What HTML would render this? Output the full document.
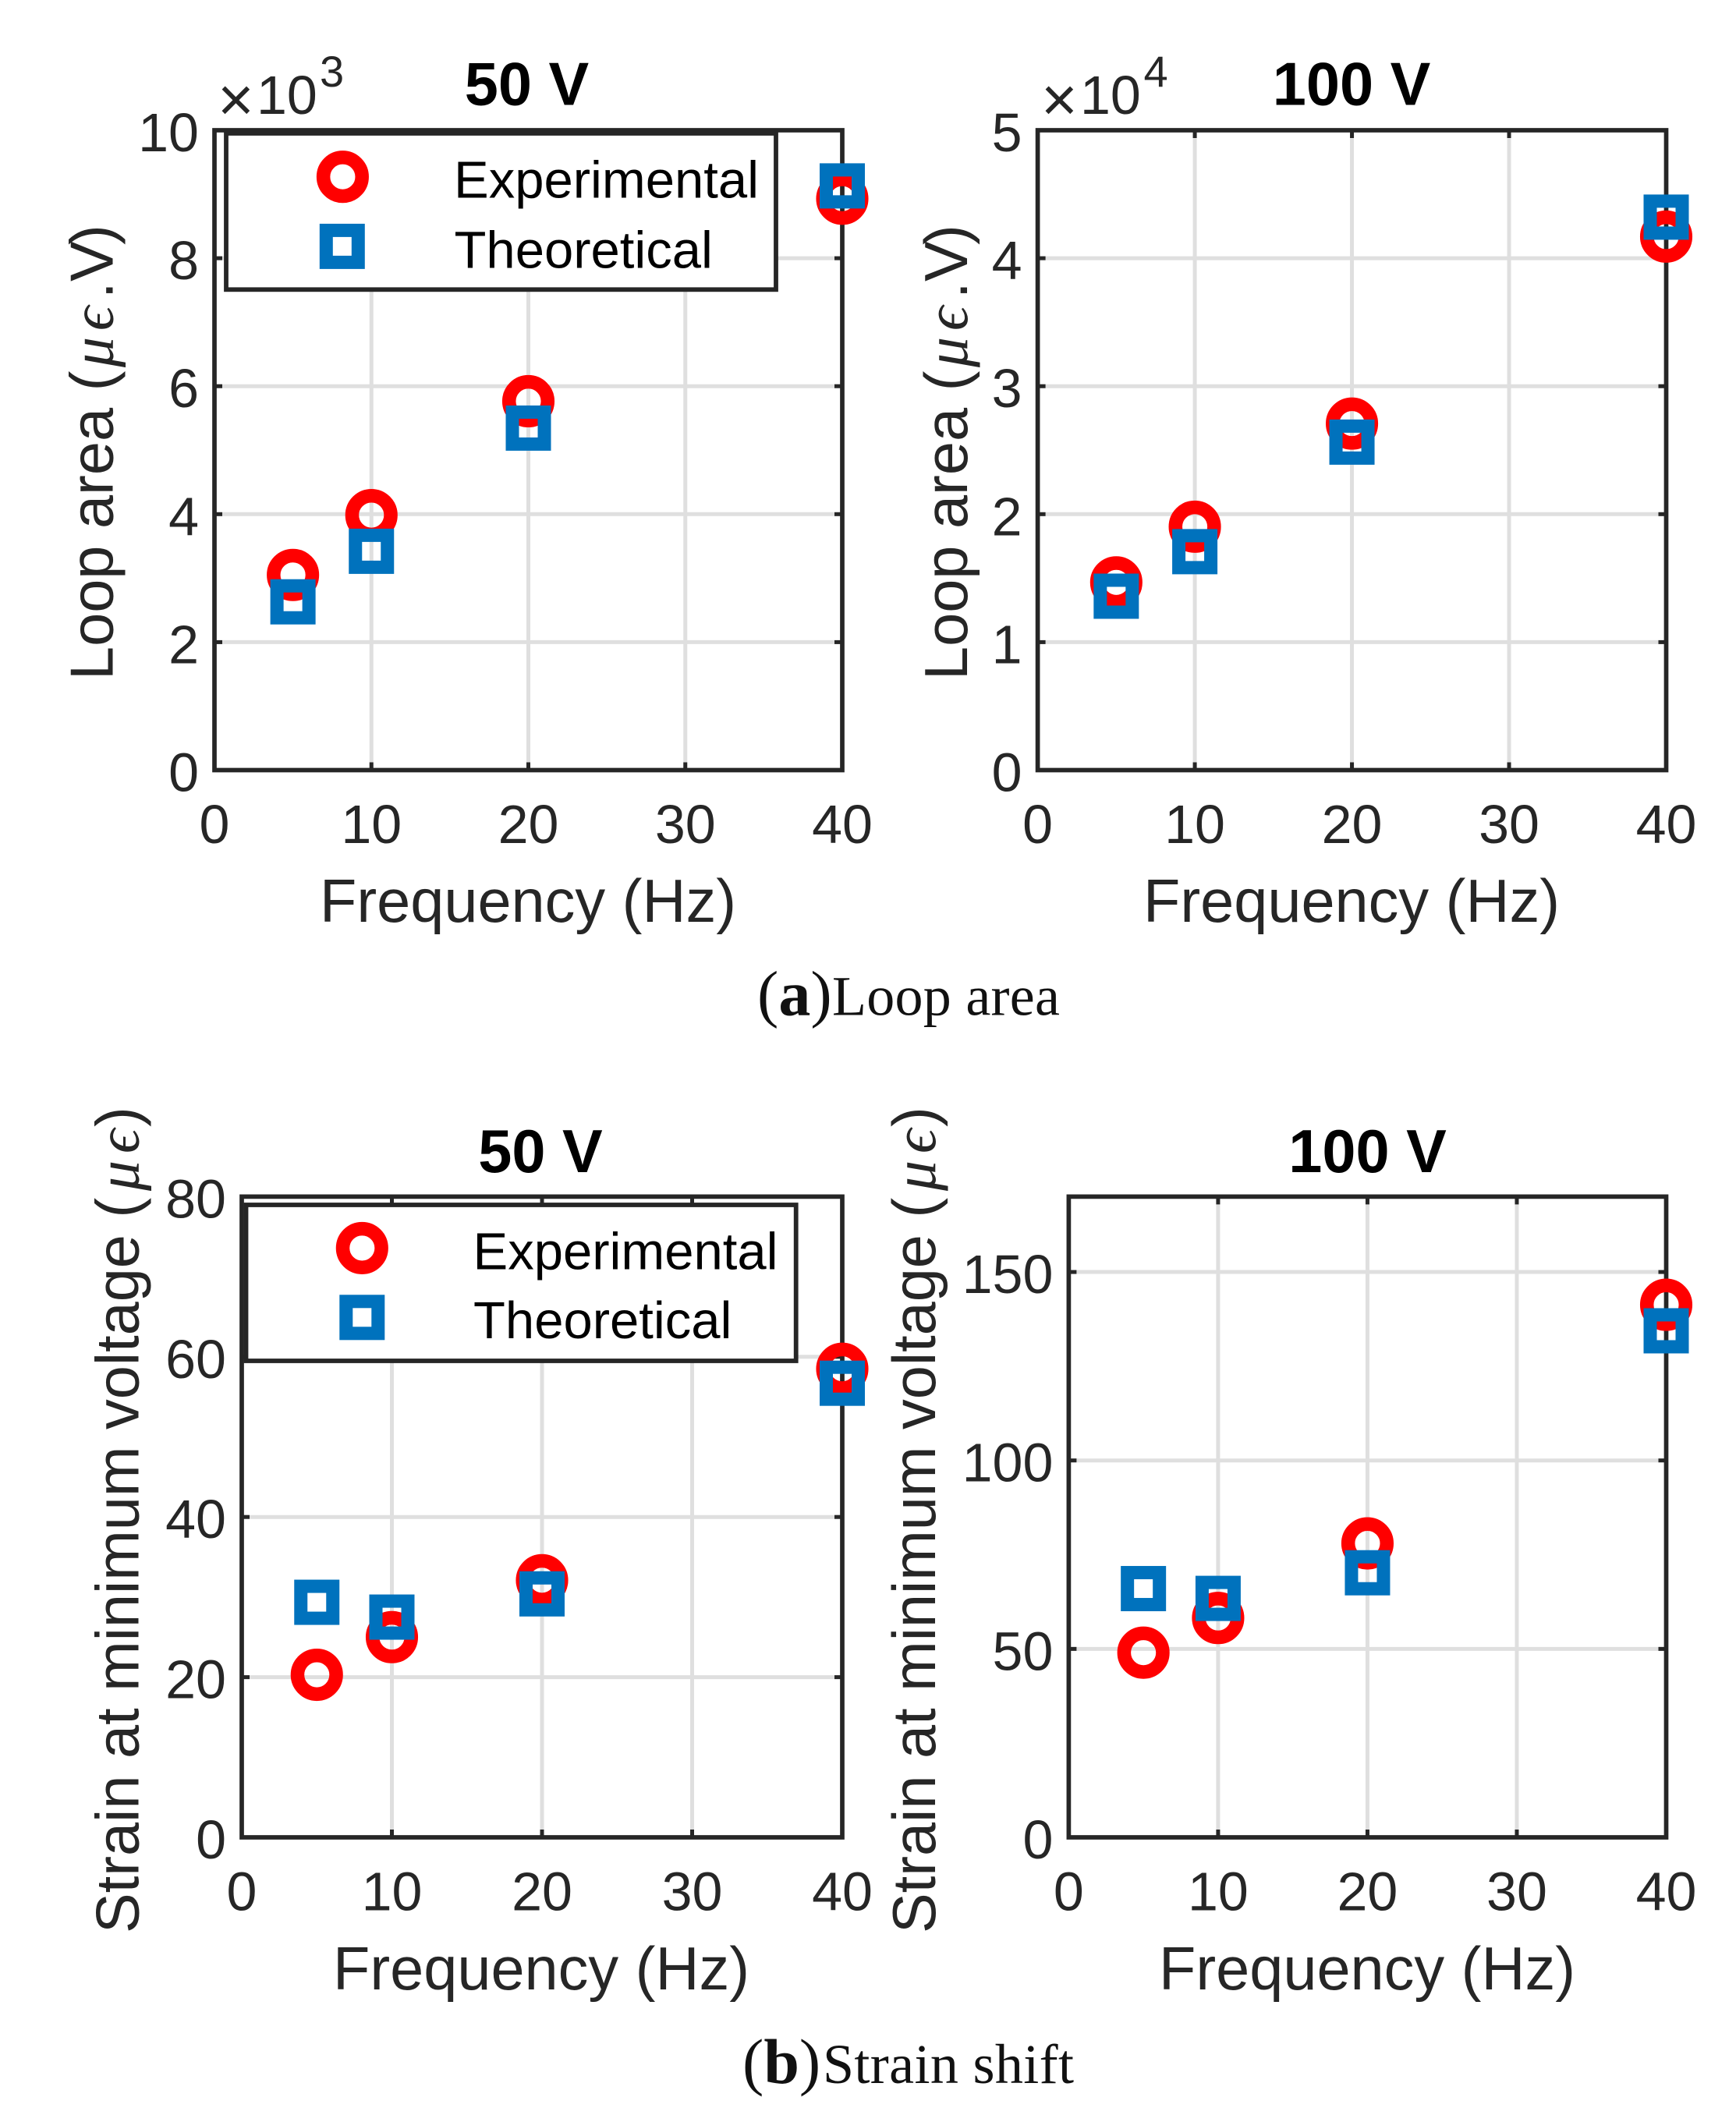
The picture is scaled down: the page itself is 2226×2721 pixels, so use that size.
<!DOCTYPE html>
<html lang="en">
<head>
<meta charset="utf-8">
<title>Loop area and strain shift versus frequency</title>
<style>
  html, body { margin: 0; padding: 0; background: #fff; }
  svg { display: block; }
  text { font-family: "Liberation Sans", sans-serif; }
  .tick { font-size: 70px; fill: #262626; }
  .axis-title { font-size: 77.5px; fill: #262626; }
  .title { font-size: 77.5px; font-weight: bold; fill: #000; text-anchor: middle; }
  .legend-text { font-size: 67px; fill: #000; }
  .math { font-family: "Liberation Serif", "DejaVu Serif", serif; font-style: italic; }
  .caption { font-family: "Liberation Serif", serif; font-size: 72px; fill: #111; }
  .caption-label { font-family: "Liberation Serif", serif; font-size: 82px; fill: #111; }
  .exp-times { font-size: 80px; fill: #262626; }
  .exp { font-size: 70px; fill: #262626; }
  .exp-sup { font-size: 56px; fill: #262626; }
</style>
</head>
<body>
<svg id="figure" xmlns="http://www.w3.org/2000/svg" width="2226" height="2721" viewBox="0 0 2226 2721">
  <rect width="2226" height="2721" fill="#fff"/>

  <g id="panel-a-50">
    <g class="plot"></g>
    <text class="title" x="675.5" y="134.5">50 V</text>
    <text class="exp-times" x="279" y="155">×</text>
    <text class="exp" x="329" y="146">10</text>
    <text class="exp-sup" x="410" y="111">3</text>
    <text class="axis-title" x="677" y="1182" text-anchor="middle">Frequency (Hz)</text>
    <text class="axis-title" transform="translate(144.5,872) rotate(-90)">Loop area (<tspan class="math" x="401">μ</tspan><tspan class="math" x="448">ϵ</tspan><tspan x="489">.</tspan><tspan x="511">V</tspan><tspan x="558">)</tspan></text>
    <g>
      <rect x="290" y="171" width="705" height="200.3" fill="#fff" stroke="#262626" stroke-width="5.8"/>
      <circle cx="439.4" cy="226.7" r="24.8" fill="none" stroke="#ff0000" stroke-width="17.5"/>
      <rect x="418.3" y="295.4" width="41" height="41" fill="none" stroke="#0072bd" stroke-width="17"/>
      <text class="legend-text" x="582" y="253.4">Experimental</text>
      <text class="legend-text" x="582.5" y="343.6">Theoretical</text>
    </g>
  </g>

  <g id="panel-a-100">
    <g class="plot"></g>
    <text class="title" x="1733" y="134.5">100 V</text>
    <text class="exp-times" x="1335" y="155">×</text>
    <text class="exp" x="1385" y="146">10</text>
    <text class="exp-sup" x="1466.5" y="111">4</text>
    <text class="axis-title" x="1733" y="1182" text-anchor="middle">Frequency (Hz)</text>
    <text class="axis-title" transform="translate(1240,872) rotate(-90)">Loop area (<tspan class="math" x="401">μ</tspan><tspan class="math" x="448">ϵ</tspan><tspan x="489">.</tspan><tspan x="511">V</tspan><tspan x="558">)</tspan></text>
  </g>

  <text y="1301.7"><tspan class="caption-label" x="971">(</tspan><tspan class="caption-label" font-weight="bold">a</tspan><tspan class="caption-label">)</tspan></text>
  <text class="caption" x="1067" y="1301.7" textLength="292" lengthAdjust="spacing">Loop area</text>

  <g id="panel-b-50">
    <g class="plot"></g>
    <text class="title" x="693" y="1503">50 V</text>
    <text class="axis-title" x="694" y="2551" text-anchor="middle">Frequency (Hz)</text>
    <text class="axis-title" transform="translate(177.5,2479) rotate(-90)">Strain at minimum voltage (<tspan class="math" x="952">μ</tspan><tspan class="math" x="1000">ϵ</tspan><tspan x="1034">)</tspan></text>
    <g>
      <rect x="315.5" y="1545" width="705.2" height="200" fill="#fff" stroke="#262626" stroke-width="5.8"/>
      <circle cx="464.3" cy="1600.4" r="24.8" fill="none" stroke="#ff0000" stroke-width="17.5"/>
      <rect x="443.8" y="1668.8" width="41" height="41" fill="none" stroke="#0072bd" stroke-width="17"/>
      <text class="legend-text" x="606.5" y="1627.7">Experimental</text>
      <text class="legend-text" x="607" y="1716">Theoretical</text>
    </g>
  </g>

  <g id="panel-b-100">
    <g class="plot"></g>
    <text class="title" x="1753.5" y="1503">100 V</text>
    <text class="axis-title" x="1753" y="2551" text-anchor="middle">Frequency (Hz)</text>
    <text class="axis-title" transform="translate(1199,2479) rotate(-90)">Strain at minimum voltage (<tspan class="math" x="952">μ</tspan><tspan class="math" x="1000">ϵ</tspan><tspan x="1034">)</tspan></text>
  </g>

  <text y="2671"><tspan class="caption-label" x="952">(</tspan><tspan class="caption-label" font-weight="bold">b</tspan><tspan class="caption-label">)</tspan></text>
  <text class="caption" x="1055" y="2671" textLength="322" lengthAdjust="spacing">Strain shift</text>
</svg>

<script>
const frequencies = [5, 10, 20, 40];
const xTickValues = [0, 10, 20, 30, 40];

const loopArea50Experimental = [3.05, 3.985, 5.765, 8.93];
const loopArea50Theoretical = [2.63, 3.42, 5.345, 9.13];
const loopArea50Ticks = [0, 2, 4, 6, 8, 10];

const loopArea100Experimental = [1.467, 1.902, 2.708, 4.169];
const loopArea100Theoretical = [1.359, 1.707, 2.563, 4.321];
const loopArea100Ticks = [0, 1, 2, 3, 4, 5];

const strain50Experimental = [20.3, 25.0, 32.1, 58.5];
const strain50Theoretical = [29.35, 27.5, 30.4, 56.7];
const strain50Ticks = [0, 20, 40, 60, 80];

const strain100Experimental = [49, 58.2, 78, 141.3];
const strain100Theoretical = [66, 63.4, 70.2, 134.4];
const strain100Ticks = [0, 50, 100, 150];

const SVG_NS = 'http://www.w3.org/2000/svg';
const AXIS_COLOR = '#262626';
const GRID_COLOR = '#dfdfdf';

function make(parent, tag, props, content) {
  const node = document.createElementNS(SVG_NS, tag);
  for (const key in props) node.setAttribute(key, props[key]);
  if (content !== undefined) node.textContent = content;
  parent.appendChild(node);
  return node;
}

function drawPanel(cfg) {
  const plot = document.querySelector(cfg.selector + ' .plot');
  const xScale = function (v) { return cfg.left + (v - cfg.xMin) / (cfg.xMax - cfg.xMin) * (cfg.right - cfg.left); };
  const yScale = function (v) { return cfg.bottom - (v - cfg.yMin) / (cfg.yMax - cfg.yMin) * (cfg.bottom - cfg.top); };

  cfg.xTicks.forEach(function (t) {
    if (t === cfg.xMin || t === cfg.xMax) return;
    const g = make(plot, 'line', { x1: xScale(t), x2: xScale(t), y1: cfg.top, y2: cfg.bottom, stroke: GRID_COLOR, 'stroke-width': 5 });
    
    
  });
  cfg.yTicks.forEach(function (t) {
    if (t === cfg.yMin || t === cfg.yMax) return;
    const g = make(plot, 'line', { x1: cfg.left, x2: cfg.right, y1: yScale(t), y2: yScale(t), stroke: GRID_COLOR, 'stroke-width': 5 });
    
    
  });

  cfg.xTicks.forEach(function (t) {
    const x = xScale(t);
    if (t !== cfg.xMin && t !== cfg.xMax) {
      const a = make(plot, 'line', { x1: x, x2: x, y1: cfg.bottom, y2: cfg.bottom - 10, stroke: AXIS_COLOR, 'stroke-width': 5 });
      
      
      const b = make(plot, 'line', { x1: x, x2: x, y1: cfg.top, y2: cfg.top + 10, stroke: AXIS_COLOR, 'stroke-width': 5 });
      
      
    }
    const label = make(plot, 'text', { class: 'tick', x: x, y: cfg.bottom + 93.5, 'text-anchor': 'middle' }, String(t));
    
    
  });

  cfg.yTicks.forEach(function (t) {
    const y = yScale(t);
    if (t !== cfg.yMin && t !== cfg.yMax) {
      const a = make(plot, 'line', { x1: cfg.left, x2: cfg.left + 10, y1: y, y2: y, stroke: AXIS_COLOR, 'stroke-width': 5 });
      
      
      const b = make(plot, 'line', { x1: cfg.right, x2: cfg.right - 10, y1: y, y2: y, stroke: AXIS_COLOR, 'stroke-width': 5 });
      
      
    }
    const label = make(plot, 'text', { class: 'tick', x: cfg.left - 20, y: y + 27, 'text-anchor': 'end' }, String(t));
    
    
  });

  const box = make(plot, 'rect', { x: cfg.left, y: cfg.top, width: cfg.right - cfg.left, height: cfg.bottom - cfg.top, fill: 'none', stroke: AXIS_COLOR, 'stroke-width': 5.7 });
  
  

  cfg.frequencies.forEach(function (f, i) {
    const c = make(plot, 'circle', { cx: xScale(f), cy: yScale(cfg.experimental[i]), r: 24.8, fill: 'none', stroke: '#ff0000', 'stroke-width': 17.5 });
    
    
  });
  cfg.frequencies.forEach(function (f, i) {
    const s = make(plot, 'rect', { x: xScale(f) - 20.5, y: yScale(cfg.theoretical[i]) - 20.5, width: 41, height: 41, fill: 'none', stroke: '#0072bd', 'stroke-width': 17 });
    
    
  });
}

drawPanel({ selector: '#panel-a-50', left: 275, right: 1080, top: 167, bottom: 987.5, xMin: 0, xMax: 40, yMin: 0, yMax: 10,
  xTicks: xTickValues, yTicks: loopArea50Ticks, frequencies: frequencies,
  experimental: loopArea50Experimental, theoretical: loopArea50Theoretical });
drawPanel({ selector: '#panel-a-100', left: 1330.6, right: 2136.5, top: 167, bottom: 987.5, xMin: 0, xMax: 40, yMin: 0, yMax: 5,
  xTicks: xTickValues, yTicks: loopArea100Ticks, frequencies: frequencies,
  experimental: loopArea100Experimental, theoretical: loopArea100Theoretical });
drawPanel({ selector: '#panel-b-50', left: 310, right: 1080, top: 1534.4, bottom: 2356, xMin: 0, xMax: 40, yMin: 0, yMax: 80,
  xTicks: xTickValues, yTicks: strain50Ticks, frequencies: frequencies,
  experimental: strain50Experimental, theoretical: strain50Theoretical });
drawPanel({ selector: '#panel-b-100', left: 1370.4, right: 2136.5, top: 1534.4, bottom: 2356, xMin: 0, xMax: 40, yMin: 0, yMax: 170,
  xTicks: xTickValues, yTicks: strain100Ticks, frequencies: frequencies,
  experimental: strain100Experimental, theoretical: strain100Theoretical });
</script>
</body>
</html>
